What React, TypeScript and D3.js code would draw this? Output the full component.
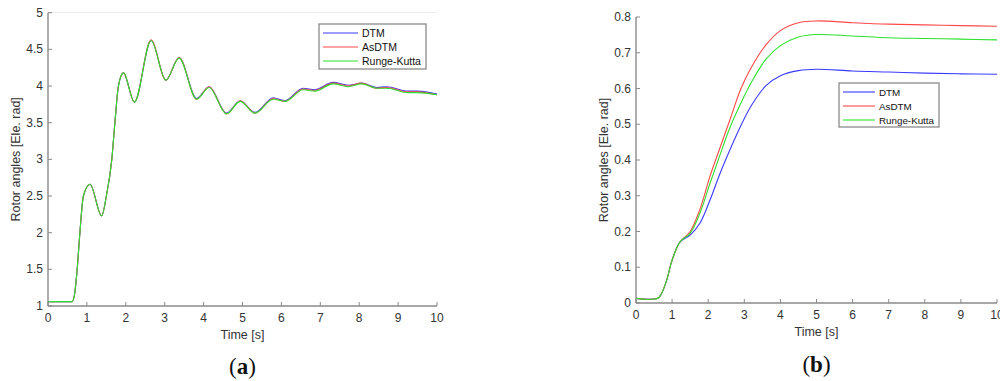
import React from "react";
import * as d3 from "d3";

// ---- Panel (a): rotor angle swing, three integration schemes ----
const timeA = [0, 0.62, 0.68, 0.75, 0.82, 0.91, 1.08, 1.38, 1.5, 1.64, 1.72, 1.81, 1.94, 2.22, 2.65, 3.03, 3.37, 3.82, 4.14, 4.59, 4.94, 5.32, 5.79, 6.09, 6.56, 6.86, 7.33, 7.72, 8.06, 8.45, 8.7, 9.26, 9.5, 10];
const dtmA = [1.06, 1.06, 1.15, 1.5, 2.0, 2.5, 2.66, 2.23, 2.5, 3.0, 3.5, 4.0, 4.18, 3.78, 4.62, 4.08, 4.39, 3.83, 3.99, 3.63, 3.80, 3.64, 3.84, 3.80, 3.97, 3.95, 4.05, 4.01, 4.04, 3.98, 3.99, 3.93, 3.93, 3.89];
const asdtmA = [1.06, 1.06, 1.15, 1.5, 2.0, 2.5, 2.66, 2.23, 2.5, 3.0, 3.5, 4.0, 4.18, 3.78, 4.63, 4.08, 4.39, 3.82, 3.99, 3.62, 3.80, 3.63, 3.83, 3.79, 3.96, 3.94, 4.04, 4.00, 4.04, 3.97, 3.98, 3.92, 3.92, 3.88];
const rkA = [1.06, 1.06, 1.15, 1.5, 2.0, 2.5, 2.66, 2.23, 2.5, 3.0, 3.5, 4.0, 4.18, 3.78, 4.62, 4.08, 4.38, 3.82, 3.98, 3.62, 3.79, 3.63, 3.82, 3.79, 3.95, 3.93, 4.03, 3.99, 4.03, 3.97, 3.97, 3.91, 3.91, 3.88];
const yTicksA = [1, 1.5, 2, 2.5, 3, 3.5, 4, 4.5, 5];

// ---- Panel (b) ----
const timeB = [0, 0.6, 0.7, 0.85, 1.0, 1.22, 1.5, 1.77, 2.05, 2.33, 2.6, 2.9, 3.2, 3.6, 4.0, 4.5, 5.0, 6.0, 7.0, 8.0, 9.0, 10];
const dtmB = [0.013, 0.013, 0.025, 0.064, 0.12, 0.171, 0.19, 0.223, 0.288, 0.363, 0.428, 0.495, 0.553, 0.608, 0.636, 0.65, 0.654, 0.649, 0.646, 0.643, 0.641, 0.640];
const asdtmB = [0.013, 0.013, 0.025, 0.064, 0.12, 0.171, 0.2, 0.262, 0.355, 0.435, 0.512, 0.598, 0.66, 0.722, 0.762, 0.784, 0.789, 0.784, 0.78, 0.778, 0.776, 0.774];
const rkB = [0.013, 0.013, 0.025, 0.064, 0.12, 0.171, 0.195, 0.251, 0.335, 0.415, 0.49, 0.558, 0.618, 0.682, 0.72, 0.744, 0.751, 0.747, 0.742, 0.74, 0.738, 0.736];
const yTicksB = [0, 0.1, 0.2, 0.3, 0.4, 0.5, 0.6, 0.7, 0.8];

const xTicks = [0, 1, 2, 3, 4, 5, 6, 7, 8, 9, 10];
const seriesNames = ["DTM", "AsDTM", "Runge-Kutta"];
const seriesColors = ["#3a3aff", "#ff4848", "#2ee02e"];

const FONT = "'Liberation Sans', Arial, sans-serif";
const AXIS = "#8a8a8a";
const TEXT = "#333";

type PanelProps = {
  x0: number; x1: number; yTop: number; yBot: number;
  yDomain: [number, number];
  yTicks: number[];
  yFmt: (v: number) => string;
  time: number[];
  series: number[][];
  curve: d3.CurveFactory;
  legend: { x: number; y: number; w: number; h: number; fs: number; lineLen: number };
  yLabelX: number;
  tag: string;
  tagY: number;
  topLine: boolean;
};

function Panel(p: PanelProps) {
  const x = d3.scaleLinear().domain([0, 10]).range([p.x0, p.x1]);
  const y = d3.scaleLinear().domain(p.yDomain).range([p.yBot, p.yTop]);
  const line = d3.line<number>()
    .x((_, i) => x(p.time[i]))
    .y((d) => y(d))
    .curve(p.curve);
  const cx = (p.x0 + p.x1) / 2;
  const cy = (p.yTop + p.yBot) / 2;
  const L = p.legend;
  return (
    <g fontFamily={FONT}>
      {p.topLine && (
        <line x1={p.x0} x2={p.x1} y1={p.yTop} y2={p.yTop} stroke="#ececec" strokeWidth={1} />
      )}
      {p.series.map((s, i) => (
        <path key={i} d={line(s) || ""} fill="none" stroke={seriesColors[i]} strokeWidth={1.1} />
      ))}
      {/* axes */}
      <line x1={p.x0} x2={p.x1} y1={p.yBot} y2={p.yBot} stroke={AXIS} strokeWidth={1.4} />
      <line x1={p.x0} x2={p.x0} y1={p.yTop} y2={p.yBot} stroke={AXIS} strokeWidth={1.4} />
      {xTicks.map((t) => (
        <g key={"x" + t}>
          <line x1={x(t)} x2={x(t)} y1={p.yBot} y2={p.yBot - 4} stroke={AXIS} strokeWidth={1} />
          <text x={x(t)} y={p.yBot + 16} textAnchor="middle" fontSize={12} fill={TEXT}>{t}</text>
        </g>
      ))}
      {p.yTicks.map((t) => (
        <g key={"y" + t}>
          <line x1={p.x0} x2={p.x0 + 4} y1={y(t)} y2={y(t)} stroke={AXIS} strokeWidth={1} />
          <text x={p.x0 - 5} y={y(t) + 4} textAnchor="end" fontSize={12} fill={TEXT}>{p.yFmt(t)}</text>
        </g>
      ))}
      <text x={cx} y={p.yBot + 33} textAnchor="middle" fontSize={12.5} fill={TEXT}>Time [s]</text>
      <text transform={`translate(${p.yLabelX},${cy}) rotate(-90)`} textAnchor="middle" fontSize={12.5} fill={TEXT}>
        Rotor angles [Ele. rad]
      </text>
      {/* legend */}
      <rect x={L.x} y={L.y} width={L.w} height={L.h} fill="#fff" stroke={AXIS} strokeWidth={1.3} />
      {seriesNames.map((n, i) => {
        const ry = L.y + 9 + i * 14;
        return (
          <g key={n}>
            <line x1={L.x + 4} x2={L.x + 4 + L.lineLen} y1={ry} y2={ry} stroke={seriesColors[i]} strokeWidth={1.1} />
            <text x={L.x + L.lineLen + 8} y={ry + 3.6} fontSize={L.fs} fill="#111">{n}</text>
          </g>
        );
      })}
      <text x={cx} y={p.tagY} textAnchor="middle" fontFamily="'Liberation Serif', 'DejaVu Serif', serif" fontSize={23} fill="#111">
        (<tspan fontWeight="bold">{p.tag}</tspan>)
      </text>
    </g>
  );
}

export default function App() {
  return (
    <svg width={1000} height={381} style={{ position: "absolute", left: 0, top: 0, background: "#fff" }}>
      <rect width={1000} height={381} fill="#fff" />
      <Panel
        x0={48} x1={437} yTop={12.7} yBot={306}
        yDomain={[1, 5]} yTicks={yTicksA} yFmt={(v) => String(v)}
        time={timeA} series={[dtmA, asdtmA, rkA]} curve={d3.curveMonotoneX}
        legend={{ x: 319, y: 24, w: 107, h: 45, fs: 10.5, lineLen: 35 }}
        yLabelX={20} tag="a" tagY={374} topLine={true}
      />
      <Panel
        x0={636} x1={997} yTop={17} yBot={303}
        yDomain={[0, 0.8]} yTicks={yTicksB} yFmt={(v) => (v === 0 ? "0" : d3.format(".1f")(v))}
        time={timeB} series={[dtmB, asdtmB, rkB]} curve={d3.curveCatmullRom.alpha(0.5)}
        legend={{ x: 839, y: 83, w: 100, h: 44, fs: 9.8, lineLen: 32 }}
        yLabelX={608} tag="b" tagY={372} topLine={false}
      />
    </svg>
  );
}
